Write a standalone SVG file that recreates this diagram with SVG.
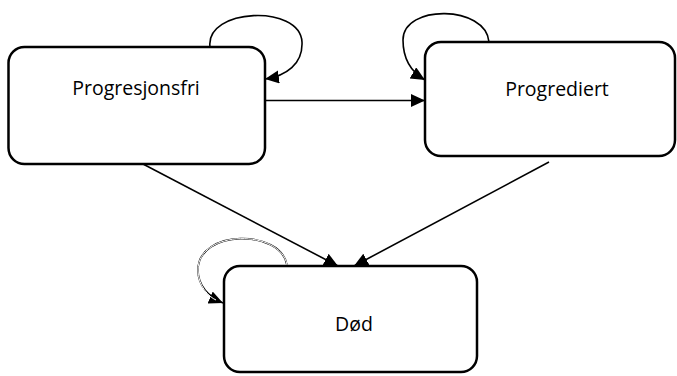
<svg xmlns="http://www.w3.org/2000/svg" width="677" height="376" viewBox="0 0 677 376">
<style>
.box{fill:#fff;stroke:#000;stroke-width:2.5}
.lbl{font-family:"Open Sans","Noto Sans",sans-serif;font-size:19.5px;fill:#000;text-anchor:middle}
.edge{fill:none;stroke:#000;stroke-width:1.6}
</style>
<defs>
<marker id="ah" markerUnits="userSpaceOnUse" markerWidth="16" markerHeight="14" refX="14" refY="6.5" orient="auto">
<path d="M0,0 L14,6.5 L0,13 z" fill="#000"/>
</marker>
</defs>
<g id="n1"><rect class="box" x="8.5" y="47" width="256.5" height="117" rx="16"/><text class="lbl" x="136" y="95">Progresjonsfri</text></g>
<g id="n2"><rect class="box" x="425" y="42" width="250" height="114" rx="16"/><text class="lbl" x="557" y="96">Progrediert</text></g>
<g id="n3"><rect class="box" x="224" y="266" width="253" height="106" rx="16"/><text class="lbl" x="354" y="331">Død</text></g>
<g id="edges">
<path class="edge" d="M265 100.5 L425 100.5" marker-end="url(#ah)"/>
<path class="edge" d="M143 164 L338 266" marker-end="url(#ah)"/>
<path class="edge" d="M549 162 L354 266" marker-end="url(#ah)"/>
<path class="edge" stroke-width="2" d="M210 47 C205 8,300 4,302 42 C303 64,286 76,265 79" marker-end="url(#ah)"/>
<path class="edge" stroke-width="2" d="M489 42 C486 5,403 4,403 40 C403 60,413 73,425 80" marker-end="url(#ah)"/>
<path class="edge" stroke-width="3.2" d="M287 265 C281 229,198 229,198 270 C198 286,209 297,223 303" marker-end="url(#ah)"/>
<path fill="none" stroke="#fff" stroke-width="1" d="M287 265 C281 229,198 229,198 270 C198 286,209 297,216 300"/>
</g>
</svg>
